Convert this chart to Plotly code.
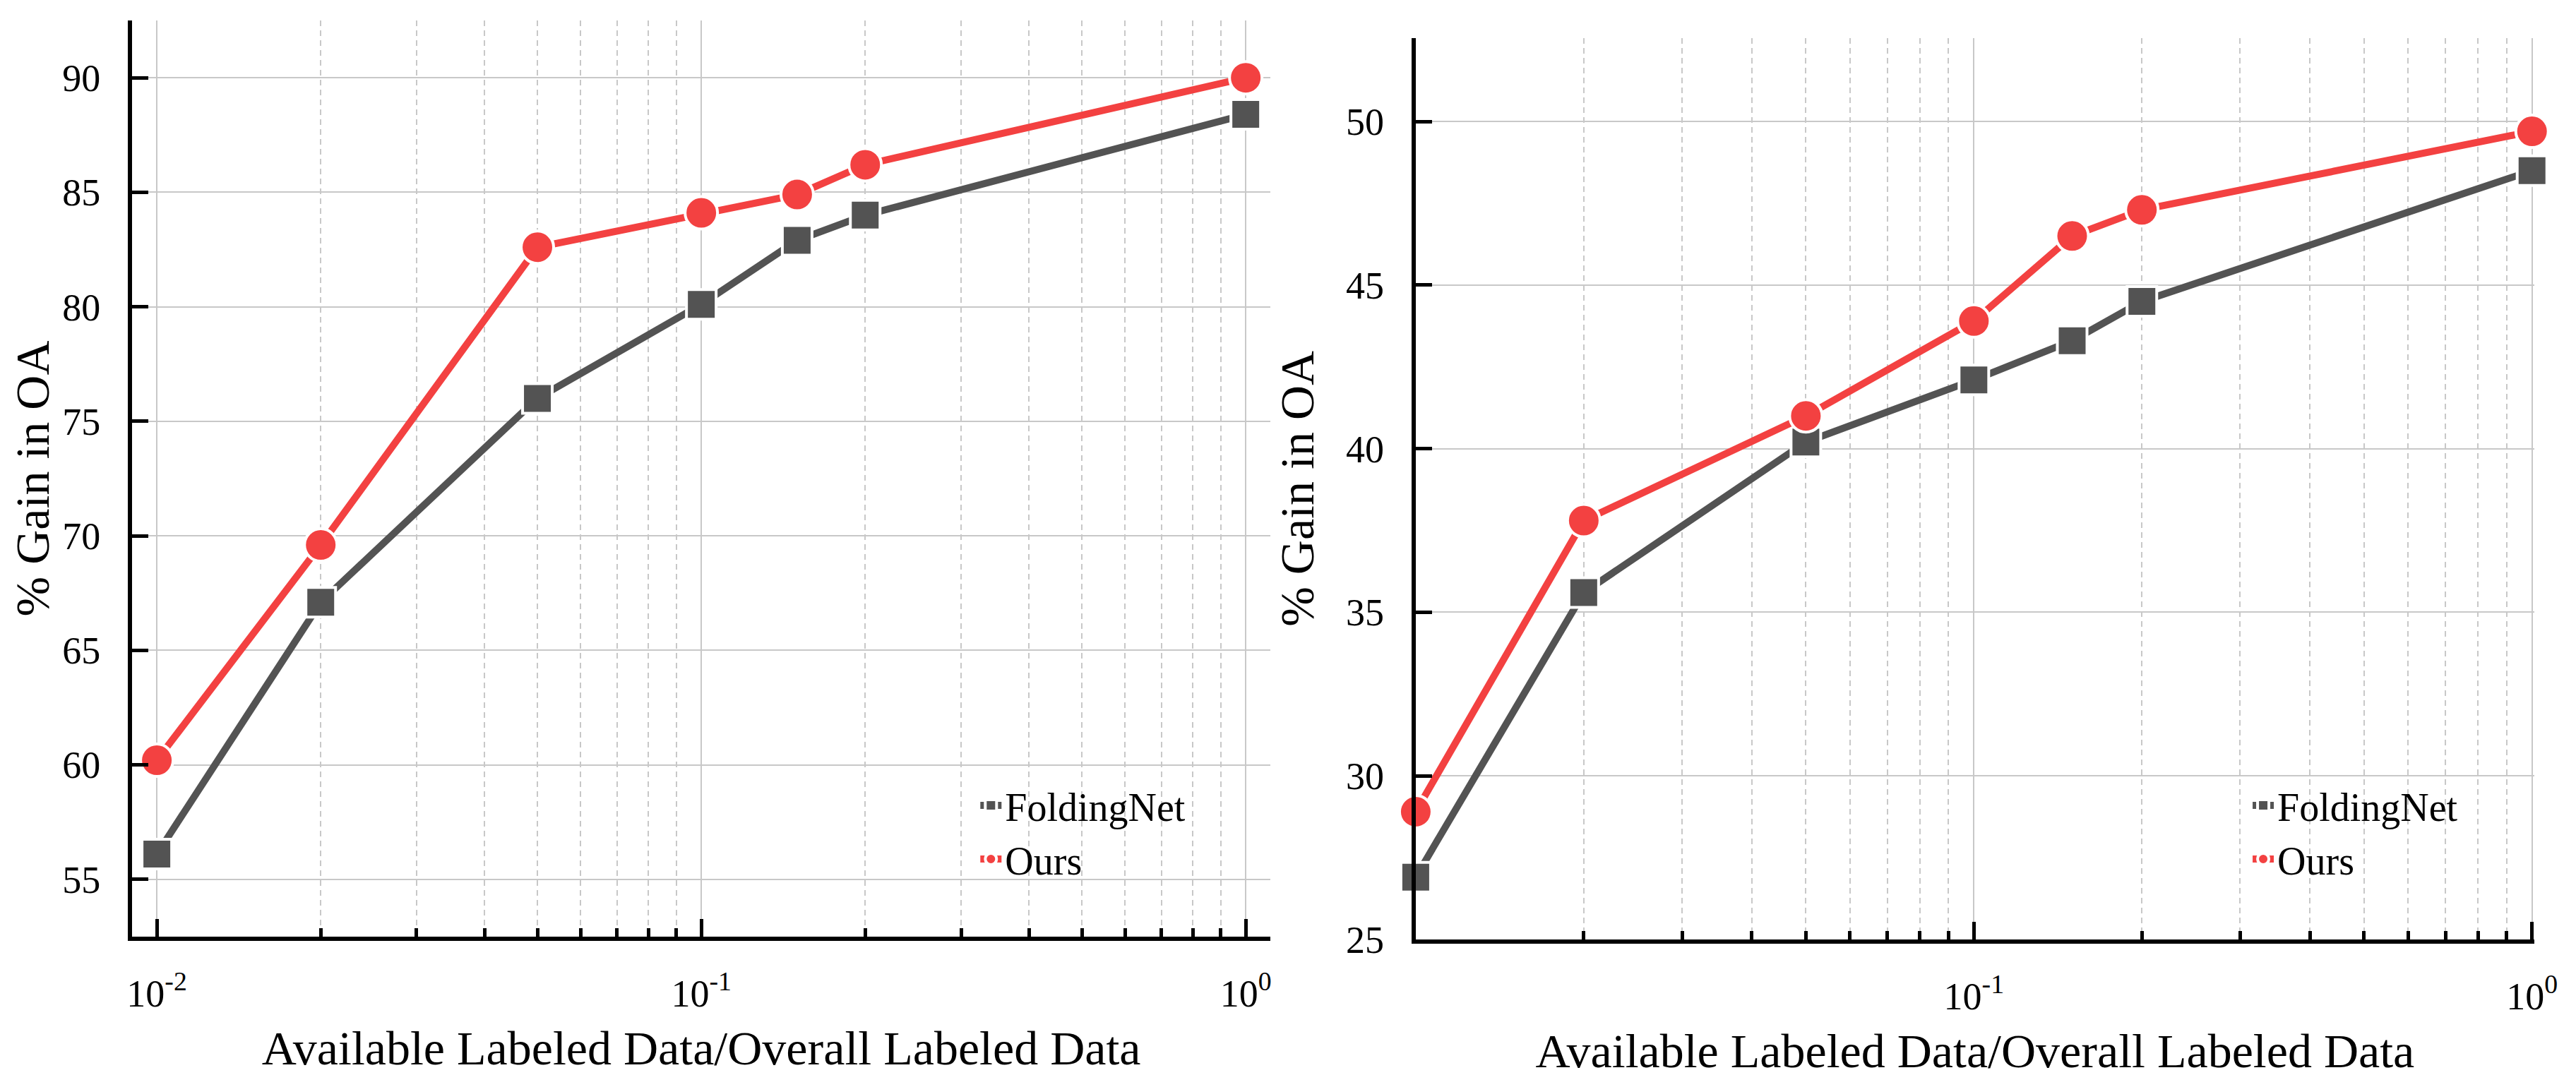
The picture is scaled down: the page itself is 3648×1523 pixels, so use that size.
import plotly.graph_objects as go

# ---------------- data ----------------
ratio = [0.01, 0.02, 0.05, 0.1, 0.15, 0.2, 1.0]

left_foldingnet = [56.1, 67.1, 76.0, 80.1, 82.9, 84.0, 88.4]
left_ours = [60.2, 69.6, 82.6, 84.1, 84.9, 86.2, 90.0]

right_foldingnet = [26.9, 35.6, 40.2, 42.1, 43.3, 44.5, 48.5]
right_ours = [28.9, 37.8, 41.0, 43.9, 46.5, 47.3, 49.7]

left_xtickvals = [0.01, 0.1, 1]
left_xticktext = ["10<sup>-2</sup>", "10<sup>-1</sup>", "10<sup>0</sup>"]
right_xtickvals = [0.1, 1]
right_xticktext = ["10<sup>-1</sup>", "10<sup>0</sup>"]
left_ytickvals = [55, 60, 65, 70, 75, 80, 85, 90]
right_ytickvals = [25, 30, 35, 40, 45, 50]

series_names = ["FoldingNet", "Ours"]
x_title = "Available Labeled Data/Overall Labeled Data"
y_title = "% Gain in OA"

# ---------------- style ----------------
GRAY = "#535353"
RED = "#F34141"
GRID = "#c8c8c8"
FONT = "Liberation Serif, Times New Roman, serif"

fig = go.Figure()


def add_series(y, name, color, symbol, size, xa, ya, legend):
    fig.add_trace(go.Scatter(
        x=ratio, y=y, name=name, mode="lines+markers",
        line=dict(color=color, width=10),
        marker=dict(symbol=symbol, size=size, color=color,
                    line=dict(color="white", width=4)),
        xaxis=xa, yaxis=ya, legend=legend, cliponaxis=False,
    ))


add_series(left_foldingnet, series_names[0], GRAY, "square", 42, "x", "y", "legend")
add_series(left_ours, series_names[1], RED, "circle", 46, "x", "y", "legend")
add_series(right_foldingnet, series_names[0], GRAY, "square", 42, "x2", "y2", "legend2")
add_series(right_ours, series_names[1], RED, "circle", 46, "x2", "y2", "legend2")

common_x = dict(
    type="log", showline=True, linecolor="black", linewidth=6,
    ticks="inside", ticklen=25, tickwidth=5, tickcolor="black",
    showgrid=True, gridcolor=GRID, gridwidth=2, automargin=False,
    tickmode="array", zeroline=False,
    tickfont=dict(family=FONT, size=54, color="black"),
    ticklabelstandoff=28,
    minor=dict(dtick="D1", ticks="inside", ticklen=12, tickwidth=5,
               tickcolor="black", showgrid=True, gridcolor=GRID,
               gridwidth=2, griddash="8px,6px"),
    title=dict(text=x_title, font=dict(family=FONT, size=68, color="black"),
               standoff=26),
)
common_y = dict(
    showline=True, linecolor="black", linewidth=6, automargin=False,
    ticks="inside", ticklen=23, tickwidth=5, tickcolor="black",
    showgrid=True, gridcolor=GRID, gridwidth=2, zeroline=False,
    tickmode="array",
    tickfont=dict(family=FONT, size=54, color="black"),
    ticklabelstandoff=28,
    title=dict(text=y_title, font=dict(family=FONT, size=68, color="black"),
               standoff=25),
)

fig.update_layout(
    width=3648, height=1523,
    margin=dict(l=0, r=0, t=0, b=0, autoexpand=False),
    paper_bgcolor="white", plot_bgcolor="white",
    font=dict(family=FONT, color="black"),
    xaxis=dict(common_x, domain=[0.0491, 0.4910], range=[-2.0454, 0.0454],
               tickvals=left_xtickvals, ticktext=left_xticktext, anchor="y"),
    yaxis=dict(common_y, domain=[0.1340, 0.9862], range=[52.5, 92.5],
               tickvals=left_ytickvals, anchor="x"),
    xaxis2=dict(common_x, domain=[0.5474, 0.9816], range=[-2.0, 0.004],
                tickvals=right_xtickvals, ticktext=right_xticktext, anchor="y2"),
    yaxis2=dict(common_y, domain=[0.1315, 0.9698], range=[25, 52.55],
                tickvals=right_ytickvals, anchor="x2"),
    legend=dict(x=0.377, y=0.231, xanchor="left", yanchor="middle",
                bgcolor="rgba(0,0,0,0)", itemsizing="trace",
                font=dict(family=FONT, size=56, color="black")),
    legend2=dict(x=0.8709, y=0.231, xanchor="left", yanchor="middle",
                 bgcolor="rgba(0,0,0,0)", itemsizing="trace",
                 font=dict(family=FONT, size=56, color="black")),
)

fig.write_html("out.html")
